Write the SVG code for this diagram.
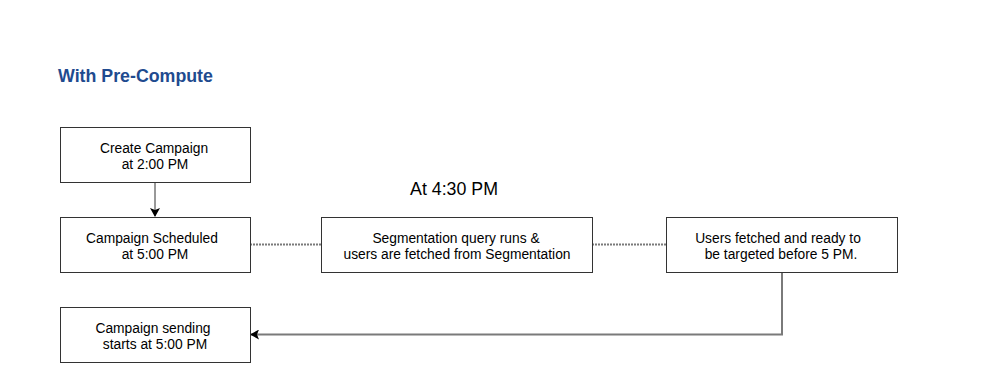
<svg xmlns="http://www.w3.org/2000/svg" width="996" height="382" viewBox="0 0 996 382">
<style>
.box{fill:#fff;stroke:#333;stroke-width:1}
.t{font-family:"Liberation Sans",Arial,sans-serif;font-size:13.8px;fill:#000;text-anchor:middle}
.c{fill:none;stroke:#7a7a7a;stroke-width:2}
.d{fill:none;stroke:#7a7a7a;stroke-width:2;stroke-dasharray:2 1}
</style>
<defs>
<marker id="ah" markerWidth="10" markerHeight="10" refX="8" refY="5" orient="auto" markerUnits="userSpaceOnUse">
<path d="M0,0 L9,5 L0,10 L2,5 Z" fill="#000"/>
</marker>
</defs>
<rect width="996" height="382" fill="#fff"/>
<text x="58" y="82" font-family="Liberation Sans,Arial,sans-serif" font-size="17.8" font-weight="bold" fill="#1f4b8f">With Pre-Compute</text>
<text x="454" y="195" font-family="Liberation Sans,Arial,sans-serif" font-size="17.8" text-anchor="middle" fill="#000">At 4:30 PM</text>
<g id="connectors">
<line x1="155" y1="182" x2="155" y2="216" style="stroke:#333;stroke-width:1" marker-end="url(#ah)"/>
<line class="d" x1="250" y1="244.5" x2="321" y2="244.5"/>
<line class="d" x1="592" y1="244.5" x2="666" y2="244.5"/>
<polyline class="c" points="782,272 782,334.5 251,334.5" marker-end="url(#ah)"/>
</g>
<g id="n1"><rect class="box" x="60.5" y="127.5" width="190" height="55"/><text class="t" x="154" y="153">Create Campaign</text><text class="t" x="155" y="169">at 2:00 PM</text></g>
<g id="n2"><rect class="box" x="60.5" y="217.5" width="190" height="55"/><text class="t" x="152" y="243">Campaign Scheduled</text><text class="t" x="155" y="259">at 5:00 PM</text></g>
<g id="n3"><rect class="box" x="321.5" y="217.5" width="271" height="55"/><text class="t" x="456" y="243">Segmentation query runs &amp;</text><text class="t" x="457" y="259">users are fetched from Segmentation</text></g>
<g id="n4"><rect class="box" x="666.5" y="217.5" width="231" height="55"/><text class="t" x="778" y="243">Users fetched and ready to</text><text class="t" x="781" y="259">be targeted before 5 PM.</text></g>
<g id="n5"><rect class="box" x="60.5" y="307.5" width="190" height="55"/><text class="t" x="153" y="333">Campaign sending</text><text class="t" x="155" y="349">starts at 5:00 PM</text></g>
</svg>
